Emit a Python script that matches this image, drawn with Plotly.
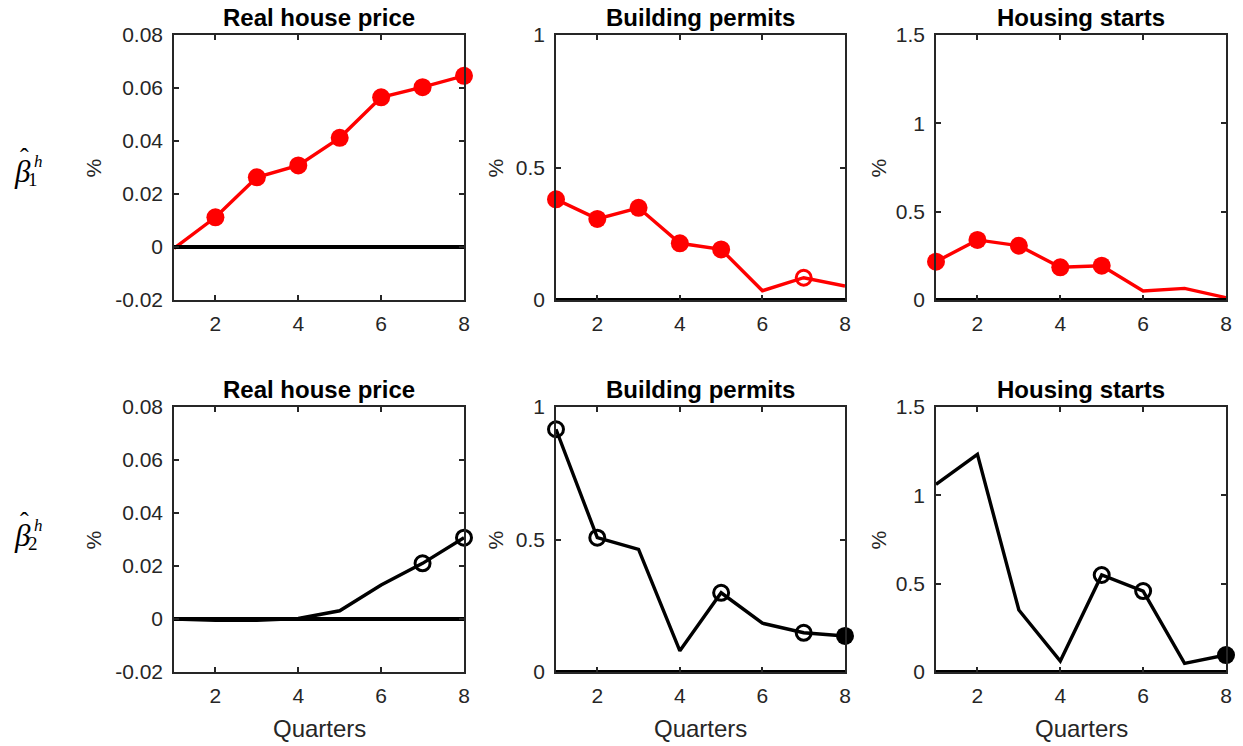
import plotly.graph_objects as go

# ---------------- data ----------------
quarters = [1, 2, 3, 4, 5, 6, 7, 8]
titles = ["Real house price", "Building permits", "Housing starts"]

# beta_1 (top row)
b1_price = [-0.0005, 0.0112, 0.0263, 0.0308, 0.0412, 0.0565, 0.0603, 0.0646]
b1_permits = [0.380, 0.306, 0.348, 0.214, 0.191, 0.035, 0.084, 0.053]
b1_starts = [0.217, 0.340, 0.307, 0.185, 0.194, 0.051, 0.066, 0.013]
# beta_2 (bottom row)
b2_price = [0.0, -0.0005, -0.0005, 0.0002, 0.0031, 0.0128, 0.0210, 0.0307]
b2_permits = [0.916, 0.507, 0.463, 0.080, 0.299, 0.184, 0.148, 0.136]
b2_starts = [1.062, 1.232, 0.351, 0.062, 0.549, 0.458, 0.049, 0.096]

# significance code per point: 2 = filled marker, 1 = open marker, 0 = none
s1_price = [0, 2, 2, 2, 2, 2, 2, 2]
s1_permits = [2, 2, 2, 2, 2, 0, 1, 0]
s1_starts = [2, 2, 2, 2, 2, 0, 0, 0]
s2_price = [0, 0, 0, 0, 0, 0, 1, 1]
s2_permits = [1, 1, 0, 0, 1, 0, 1, 2]
s2_starts = [0, 0, 0, 0, 1, 1, 0, 2]

price_ticks = [-0.02, 0, 0.02, 0.04, 0.06, 0.08]
price_ticktext = ["-0.02", "0", "0.02", "0.04", "0.06", "0.08"]
permit_ticks = [0, 0.5, 1]
permit_ticktext = ["0", "0.5", "1"]
start_ticks = [0, 0.5, 1, 1.5]
start_ticktext = ["0", "0.5", "1", "1.5"]
x_ticks = [2, 4, 6, 8]

# ---------------- layout helpers ----------------
W, H = 1243, 746
col_px = [(174, 464), (556, 845), (936, 1226)]
row_px = [(35, 300), (407, 672)]

def xd(px):
    return px / W

def yd(py):
    return 1 - py / H

AX = "#262626"
FONT = "Liberation Sans, Arial, sans-serif"

fig = go.Figure()

panels = [
    (0, 0, b1_price, s1_price, "red", [-0.02, 0.08], price_ticks, price_ticktext),
    (0, 1, b1_permits, s1_permits, "red", [0, 1], permit_ticks, permit_ticktext),
    (0, 2, b1_starts, s1_starts, "red", [0, 1.5], start_ticks, start_ticktext),
    (1, 0, b2_price, s2_price, "black", [-0.02, 0.08], price_ticks, price_ticktext),
    (1, 1, b2_permits, s2_permits, "black", [0, 1], permit_ticks, permit_ticktext),
    (1, 2, b2_starts, s2_starts, "black", [0, 1.5], start_ticks, start_ticktext),
]

annotations = []
for k, (r, c, vals, sig, color, yr, yt, ytt) in enumerate(panels):
    n = k + 1
    xa = "x" if n == 1 else f"x{n}"
    ya = "y" if n == 1 else f"y{n}"
    xkey = "xaxis" if n == 1 else f"xaxis{n}"
    ykey = "yaxis" if n == 1 else f"yaxis{n}"
    x0, x1 = col_px[c]
    y0, y1 = row_px[r]
    fig.update_layout({
        xkey: dict(domain=[xd(x0), xd(x1)], anchor=ya, range=[1, 8],
                   tickvals=x_ticks, ticks="inside", ticklen=5, tickwidth=1.5,
                   tickcolor=AX, showline=True, linecolor=AX, linewidth=1.5,
                   mirror="ticks", showgrid=False, zeroline=False,
                   automargin=False,
                   tickfont=dict(family=FONT, size=21, color=AX),
                   ticklabelstandoff=4),
        ykey: dict(domain=[yd(y1), yd(y0)], anchor=xa, range=yr,
                   tickvals=yt, ticktext=ytt, ticks="inside", ticklen=5,
                   tickwidth=1.5, tickcolor=AX, showline=True, linecolor=AX,
                   linewidth=1.5, mirror="ticks", showgrid=False,
                   zeroline=False, automargin=False,
                   tickfont=dict(family=FONT, size=21, color=AX),
                   ticklabelstandoff=5),
    })
    # data line
    fig.add_trace(go.Scatter(x=quarters, y=vals, mode="lines",
                             line=dict(color=color, width=3.4),
                             xaxis=xa, yaxis=ya, showlegend=False,
                             cliponaxis=False))
    # zero line
    fig.add_trace(go.Scatter(x=[quarters[0], quarters[-1]], y=[0, 0],
                             mode="lines", line=dict(color="black", width=3.8),
                             xaxis=xa, yaxis=ya, showlegend=False))
    # filled markers
    fx = [q for q, s in zip(quarters, sig) if s == 2]
    fy = [v for v, s in zip(vals, sig) if s == 2]
    if fx:
        fig.add_trace(go.Scatter(x=fx, y=fy, mode="markers",
                                 marker=dict(symbol="circle", size=18,
                                             color=color),
                                 xaxis=xa, yaxis=ya, showlegend=False,
                                 cliponaxis=False))
    ox = [q for q, s in zip(quarters, sig) if s == 1]
    oy = [v for v, s in zip(vals, sig) if s == 1]
    if ox:
        fig.add_trace(go.Scatter(x=ox, y=oy, mode="markers",
                                 marker=dict(symbol="circle-open", size=15,
                                             color=color,
                                             line=dict(width=3, color=color)),
                                 xaxis=xa, yaxis=ya, showlegend=False,
                                 cliponaxis=False))
    cx = (x0 + x1) / 2
    # title
    annotations.append(dict(text=f"<b>{titles[c]}</b>", x=xd(cx), y=yd(y0 - 18),
                            xref="paper", yref="paper", showarrow=False,
                            xanchor="center", yanchor="middle",
                            font=dict(family=FONT, size=24, color="black")))
    # % label
    pct_x = [93, 495, 878][c]
    annotations.append(dict(text="%", x=xd(pct_x), y=yd((y0 + y1) / 2 + 1),
                            xref="paper", yref="paper", showarrow=False,
                            textangle=-90, xanchor="center", yanchor="middle",
                            font=dict(family=FONT, size=21, color=AX)))
    if r == 1:
        annotations.append(dict(text="Quarters", x=xd(cx), y=yd(728),
                                xref="paper", yref="paper", showarrow=False,
                                xanchor="center", yanchor="middle",
                                font=dict(family=FONT, size=24, color=AX)))

# beta labels
SERIF = "Liberation Serif, Times New Roman, serif"
for sub, dy in [("1", 0), ("2", 364)]:
    annotations.append(dict(text="<i>β</i>", x=xd(22), y=yd(171 + dy),
                            xref="paper", yref="paper", showarrow=False,
                            xanchor="center", yanchor="middle",
                            font=dict(family=SERIF, size=31, color="black")))
    annotations.append(dict(text="ˆ", x=xd(24), y=yd(157 + dy),
                            xref="paper", yref="paper", showarrow=False,
                            xanchor="center", yanchor="middle",
                            font=dict(family=SERIF, size=26, color="black")))
    annotations.append(dict(text="<i>h</i>", x=xd(38), y=yd(161 + dy),
                            xref="paper", yref="paper", showarrow=False,
                            xanchor="center", yanchor="middle",
                            font=dict(family=SERIF, size=17, color="black")))
    annotations.append(dict(text=sub, x=xd(33), y=yd(179 + dy),
                            xref="paper", yref="paper", showarrow=False,
                            xanchor="center", yanchor="middle",
                            font=dict(family=SERIF, size=19, color="black")))

fig.update_layout(width=W, height=H, margin=dict(l=0, r=0, t=0, b=0),
                  paper_bgcolor="white", plot_bgcolor="white",
                  annotations=annotations, showlegend=False)

fig.write_html("out.html", config={"displayModeBar": False},
               post_script="document.body.style.margin='0px';"
                           "document.body.style.overflow='hidden';")
